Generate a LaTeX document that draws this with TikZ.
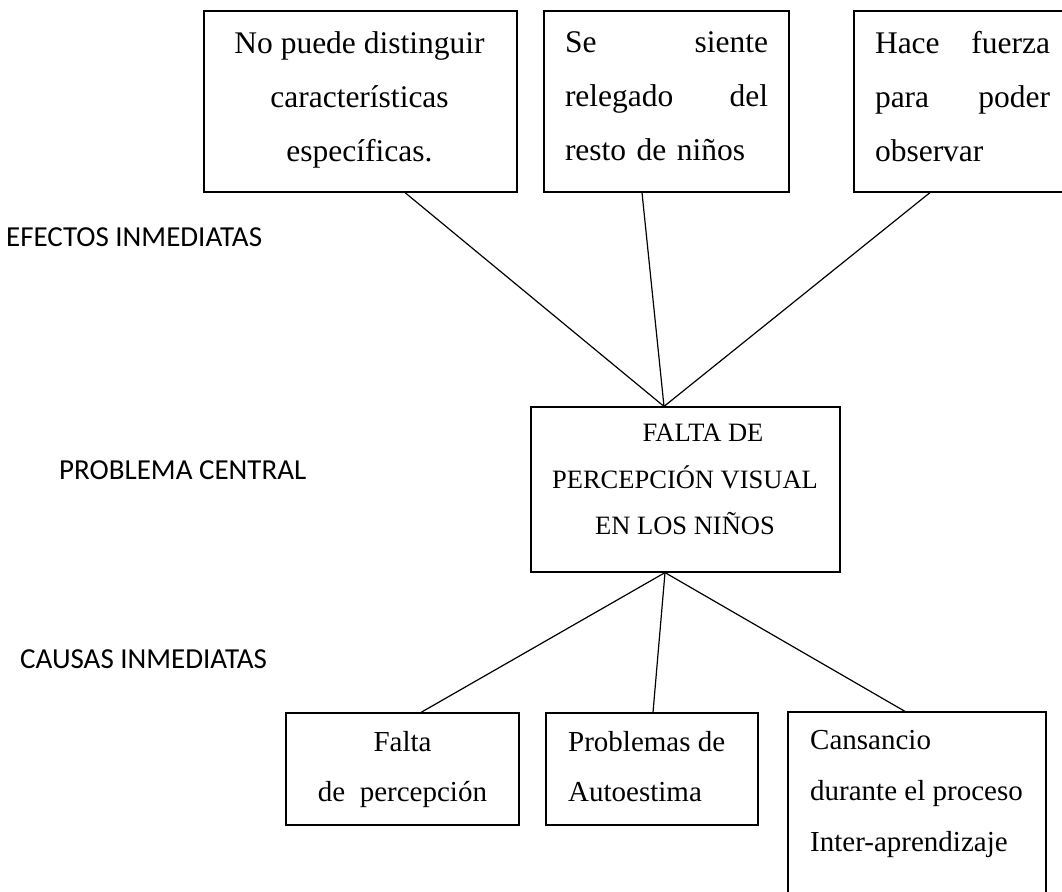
\documentclass[tikz,border=0pt]{standalone}
\usepackage{fontspec}
\setmainfont{Liberation Serif}
\newfontfamily\labfont{Carlito}
\newcommand{\jline}[3]{\makebox[#1][l]{#2\hfill #3}}
\begin{document}
\begin{tikzpicture}[x=1pt,y=-1pt]
\tikzset{
  boxs/.style={draw, line width=1.2pt, inner sep=0pt},
  txt/.style={inner sep=0pt},
  toptxt/.style={txt, font=\fontsize{31.5}{54}\selectfont},
  midtxt/.style={txt, font=\fontsize{26.5}{46.5}\selectfont},
  bottxt/.style={txt, font=\fontsize{29}{50}\selectfont},
  lab/.style={inner sep=0pt, anchor=west, font=\labfont\fontsize{29}{35}\selectfont},
  conn/.style={line width=1.2pt}
}
\useasboundingbox (0,0) rectangle (1062,891);
% boxes
\node[boxs, minimum width=313pt, minimum height=181pt] (b1) at (360.5,101.5) {};
\node[boxs, minimum width=245pt, minimum height=181pt] (b2) at (666.5,101.5) {};
\node[boxs, minimum width=212pt, minimum height=181pt] (b3) at (960,101.5) {};
\node[boxs, minimum width=309pt, minimum height=165pt] (ctr) at (685.5,489.5) {};
\node[boxs, minimum width=233pt, minimum height=112pt] (ba) at (402.5,769) {};
\node[boxs, minimum width=212pt, minimum height=112pt] (bb) at (652,769) {};
\node[boxs, minimum width=258pt, minimum height=200pt] (bc) at (917,812) {};
% texts
\node[toptxt, align=center] (t1) at (359.5,100) {No puede distinguir\\características\\específicas.};
\node[toptxt, text width=203pt, align=left] (t2) at (666.5,96.5) {\jline{203pt}{Se}{siente}\\\jline{203pt}{relegado}{del}\\resto de niños};
\node[toptxt, text width=175pt, align=left] (t3) at (962.5,96.5) {\jline{175pt}{Hace}{fuerza}\\\jline{175pt}{para}{poder}\\observar};
\node[midtxt, align=center] (t4) at (685,479.5) {\hspace*{36pt}FALTA DE\\PERCEPCIÓN VISUAL\\EN LOS NIÑOS};
\node[bottxt, align=center] (ta) at (402.5,770) {Falta\\de\ \ percepción};
\node[bottxt, align=left, anchor=west] (tb) at (568,767) {Problemas de\\Autoestima};
\node[bottxt, align=left, anchor=west, font=\fontsize{29}{51}\selectfont] (tc) at (810,794) {Cansancio\\durante el proceso\\Inter-aprendizaje};
% side labels
\node[lab] (l1) at (6,237.5) {EFECTOS INMEDIATAS};
\node[lab] (l2) at (59,470) {PROBLEMA CENTRAL};
\node[lab] (l3) at (20,659.5) {CAUSAS INMEDIATAS};
% connectors
\draw[conn] ([xshift=44.5pt]b1.south) -- ([xshift=-21.5pt]ctr.north);
\draw[conn] ([xshift=-24.5pt]b2.south) -- ([xshift=-21.5pt]ctr.north);
\draw[conn] ([xshift=-30pt]b3.south) -- ([xshift=-21.5pt]ctr.north);
\draw[conn] ([xshift=-20.5pt]ctr.south) -- ([xshift=18.5pt]ba.north);
\draw[conn] ([xshift=-20.5pt]ctr.south) -- ([xshift=1pt]bb.north);
\draw[conn] ([xshift=-20.5pt]ctr.south) -- ([xshift=-12pt]bc.north);
\end{tikzpicture}
\end{document}
